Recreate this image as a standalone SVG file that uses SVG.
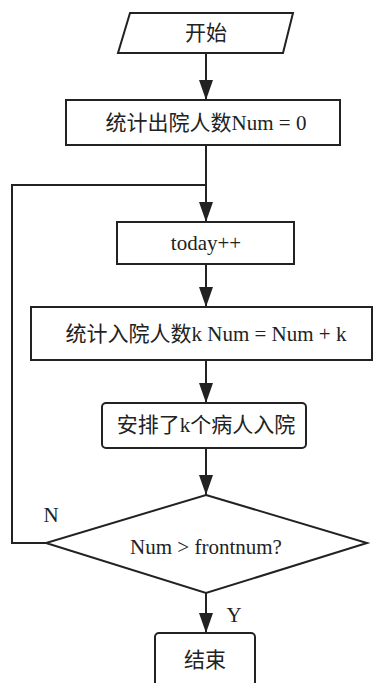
<svg xmlns="http://www.w3.org/2000/svg" width="376" height="683" viewBox="0 0 376 683">
<style>
.s{fill:#fff;stroke:#222;stroke-width:2}
.c{fill:none;stroke:#222;stroke-width:2}
text{font-family:"Liberation Serif","Noto Sans CJK SC",serif;font-size:21px;fill:#222;text-anchor:middle;dominant-baseline:central}
</style>
<defs>
<marker id="a" markerUnits="userSpaceOnUse" markerWidth="20" markerHeight="14" refX="20" refY="7" orient="auto" viewBox="0 0 20 14">
<path d="M0,0 L20,7 L0,14 Z" fill="#222"/>
</marker>
</defs>
<rect width="376" height="683" fill="#fff"/>
<g id="connectors">
<line class="c" x1="206" y1="53" x2="206" y2="100" marker-end="url(#a)"/>
<line class="c" x1="206" y1="145" x2="206" y2="222" marker-end="url(#a)"/>
<line class="c" x1="206" y1="264" x2="206" y2="307" marker-end="url(#a)"/>
<line class="c" x1="206" y1="360" x2="206" y2="403" marker-end="url(#a)"/>
<line class="c" x1="206" y1="448" x2="206" y2="495" marker-end="url(#a)"/>
<line class="c" x1="206" y1="593" x2="206" y2="633" marker-end="url(#a)"/>
<polyline class="c" points="46,543 12,543 12,185 206,185"/>
<text x="51" y="515">N</text>
<text x="234" y="615">Y</text>
</g>
<g id="start">
<polygon class="s" points="130,13 293,13 283,53 118,53"/>
<text x="206" y="33">开始</text>
</g>
<g id="init">
<rect class="s" x="66" y="100" width="274" height="45"/>
<text x="206" y="123">统计出院人数Num = 0</text>
</g>
<g id="today">
<rect class="s" x="117" y="222" width="177" height="42"/>
<text x="206" y="243">today++</text>
</g>
<g id="count">
<rect class="s" x="31" y="307" width="341" height="53"/>
<text x="206" y="334">统计入院人数k Num = Num + k</text>
</g>
<g id="arrange">
<rect class="s" x="102" y="403" width="204" height="45" rx="4"/>
<text x="206" y="425">安排了k个病人入院</text>
</g>
<g id="decision">
<polygon class="s" points="206,495 367,543 206,593 46,543"/>
<text x="206" y="547">Num &gt; frontnum?</text>
</g>
<g id="end">
<rect class="s" x="155" y="633" width="100" height="60" rx="4"/>
<text x="205" y="660">结束</text>
</g>
</svg>
